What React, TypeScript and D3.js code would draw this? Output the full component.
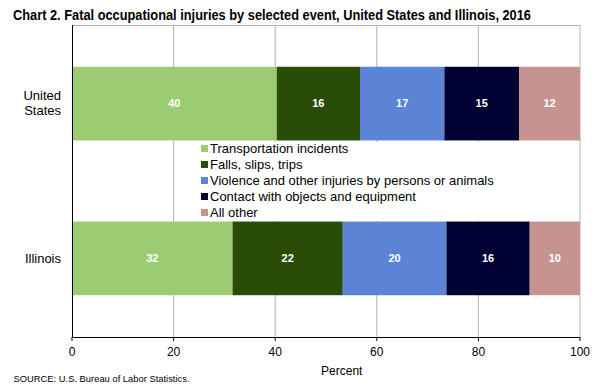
import React from 'react';
import * as d3 from 'd3';

const categories = ['United States', 'Illinois'];
const events = [
  'Transportation incidents',
  'Falls, slips, trips',
  'Violence and other injuries by persons or animals',
  'Contact with objects and equipment',
  'All other',
];
const unitedStates = [40.3, 16.4, 16.6, 14.7, 12.0];
const illinois = [31.6, 21.7, 20.4, 16.4, 9.9];
const xTicks = [0, 20, 40, 60, 80, 100];
const colors = ['#9BCB73', '#294D06', '#5B84D6', '#000033', '#C69391'];

const W = 600;
const H = 389;
const margin = { top: 25, right: 20, bottom: 52, left: 72 };
const font = 'Arial, "Liberation Sans", sans-serif';

const App = () => {
  const plotW = W - margin.left - margin.right;
  const plotH = H - margin.top - margin.bottom;

  const x = d3.scaleLinear().domain([0, 100]).range([margin.left, margin.left + plotW]);
  const y = d3.scaleBand()
    .domain(categories)
    .range([margin.top, margin.top + plotH])
    .paddingInner(0.524)
    .paddingOuter(0.27);

  const rows = categories.map((c, i) => ({ name: c, values: i === 0 ? unitedStates : illinois }));
  const stacked = rows.map(r => {
    let acc = 0;
    return r.values.map((v, k) => {
      const seg = { x0: acc, x1: acc + v, v, k };
      acc += v;
      return seg;
    });
  });

  const bottom = margin.top + plotH;

  return (
    <svg width={W} height={H} style={{ position: 'absolute', left: 0, top: 0, background: '#fff' }}>
      <text x={13} y={19.5} fontFamily={font} fontWeight="bold" fontSize={14}
        textLength={518} lengthAdjust="spacingAndGlyphs">
        Chart 2. Fatal occupational injuries by selected event, United States and Illinois, 2016
      </text>

      {/* grid */}
      {xTicks.slice(1).map(t => (
        <line key={t} x1={x(t)} x2={x(t)} y1={margin.top} y2={bottom} stroke="#b3b3b3" strokeWidth={1} />
      ))}
      <line x1={margin.left} x2={x(100)} y1={margin.top + 0.5} y2={margin.top + 0.5} stroke="#b3b3b3" />

      {/* bars */}
      {rows.map((r, i) => (
        <g key={r.name}>
          {stacked[i].map(s => (
            <g key={s.k}>
              <rect x={x(s.x0)} width={x(s.x1) - x(s.x0)} y={y(r.name)} height={y.bandwidth()} fill={colors[s.k]} />
              <text x={(x(s.x0) + x(s.x1)) / 2} y={y(r.name)! + y.bandwidth() / 2} dy="0.35em"
                textAnchor="middle" fill="#fff" fontWeight="bold" fontSize={11} fontFamily={font}>
                {Math.round(s.v)}
              </text>
            </g>
          ))}
        </g>
      ))}

      {/* legend */}
      <rect x={198} y={142} width={300} height={79} fill="#fff" />
      {events.map((e, k) => (
        <g key={e} transform={`translate(201,${148 + k * 16})`}>
          <rect x={0} y={-3} width={7} height={7} fill={colors[k]} />
          <text x={9} y={0} dy="0.35em" fontSize={13} fontFamily={font} fill="#000">{e}</text>
        </g>
      ))}

      {/* axes */}
      <line x1={margin.left + 0.5} x2={margin.left + 0.5} y1={margin.top} y2={bottom} stroke="#000" />
      <line x1={margin.left} x2={x(100)} y1={bottom + 0.5} y2={bottom + 0.5} stroke="#000" />
      {xTicks.map(t => (
        <g key={t}>
          <line x1={x(t)} x2={x(t)} y1={bottom} y2={bottom + 4} stroke="#000" />
          <text x={x(t)} y={bottom + 15} dy="0.35em" textAnchor="middle" fontSize={12} fontFamily={font}>{t}</text>
        </g>
      ))}
      <text x={x(53.1)} y={371} dy="0.35em" textAnchor="middle" fontSize={12} fontFamily={font}>Percent</text>

      {/* category labels */}
      <text x={61} y={y('United States')! + y.bandwidth() / 2} textAnchor="end" fontSize={13} fontFamily={font}>
        <tspan x={61} dy="-0.3em">United</tspan>
        <tspan x={61} dy="1.2em">States</tspan>
      </text>
      <text x={61} y={y('Illinois')! + y.bandwidth() / 2} dy="0.35em" textAnchor="end" fontSize={13} fontFamily={font}>
        Illinois
      </text>

      <text x={13.5} y={378.5} dy="0.35em" fontSize={9} fontFamily={font}
        textLength={176} lengthAdjust="spacingAndGlyphs">SOURCE: U.S. Bureau of Labor Statistics.</text>
    </svg>
  );
};

export default App;
